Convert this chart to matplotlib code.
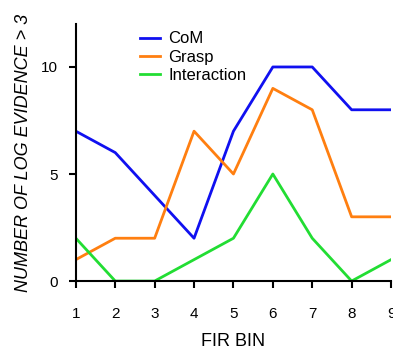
import matplotlib
matplotlib.use("Agg")
import matplotlib.pyplot as plt

plt.rcParams['font.family'] = ['Liberation Sans', 'DejaVu Sans']

bins = [1, 2, 3, 4, 5, 6, 7, 8, 9]
com = [7, 6, 4, 2, 7, 10, 10, 8, 8]
grasp = [1, 2, 2, 7, 5, 9, 8, 3, 3]
interaction = [2, 0, 0, 1, 2, 5, 2, 0, 1]


def main():
    fig = plt.figure(figsize=(3.93, 3.5), dpi=100)
    ax = fig.add_axes([0.193, 0.197, 0.802, 0.734])
    ax.plot(bins, com, color="#1010F0", lw=2, label="CoM")
    ax.plot(bins, grasp, color="#FF7F10", lw=2, label="Grasp")
    ax.plot(bins, interaction, color="#22DD33", lw=2, label="Interaction")

    ax.set_xlim(1, 9)
    ax.set_ylim(0, 12)
    ax.set_xticks(bins)
    ax.set_yticks([0, 5, 10])
    for s in ["top", "right"]:
        ax.spines[s].set_visible(False)
    for s in ["left", "bottom"]:
        ax.spines[s].set_linewidth(1.5)
    ax.tick_params(direction="out", width=1.5, length=5, labelsize=11)
    ax.tick_params(axis="x", pad=14)
    ax.tick_params(axis="y", pad=8)

    ax.set_xlabel("FIR BIN", fontsize=13, labelpad=8)
    ax.set_ylabel("NUMBER OF LOG EVIDENCE > 3", fontsize=13, style="italic", labelpad=6)

    ax.legend(loc="upper left", bbox_to_anchor=(0.155, 1.03), frameon=False,
              fontsize=12, handlelength=1.2, handletextpad=0.5, labelspacing=0.2)

    fig.savefig("out.png", dpi=100)


if __name__ == '__main__':
    main()
